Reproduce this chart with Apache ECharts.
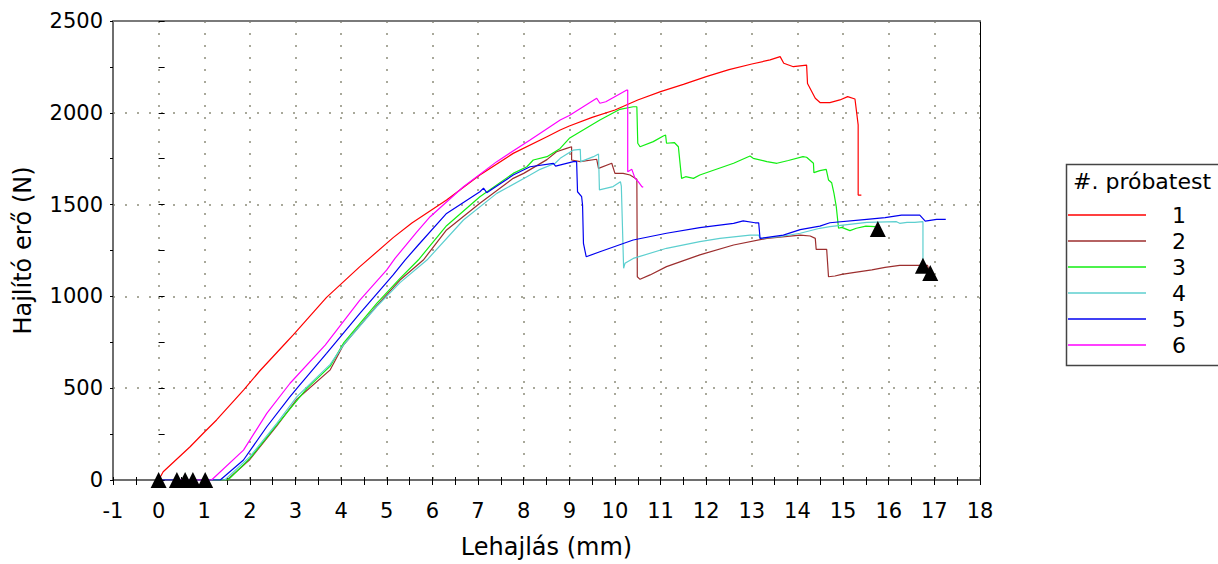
<!DOCTYPE html>
<html>
<head>
<meta charset="utf-8">
<script src="https://cdn.jsdelivr.net/npm/echarts@6/dist/echarts.min.js"></script>
<style>
  html, body { margin: 0; padding: 0; background: #ffffff; }
  #chart { width: 1218px; height: 564px; }
</style>
</head>
<body>
<div id="chart"></div>
<script>
// ---- Data ----
const seriesNames = ['1', '2', '3', '4', '5', '6'];
const seriesColors = ['#ff0000', '#9c2e2e', '#11ee11', '#5ccfcf', '#0000f0', '#ff00ff'];

const xTickLabels = ['-1','0','1','2','3','4','5','6','7','8','9','10','11','12','13','14','15','16','17','18'];
const yTickLabels = ['0','500','1000','1500','2000','2500'];

const sample1 = [[0,0],[0.1,45],[0.69,181],[1.0,260],[1.27,327],[1.86,490],[2.22,595],[2.81,753],[2.95,790],[3.68,995],[4.41,1162],[5.14,1320],[5.55,1400],[6.31,1525],[7.04,1661],[7.77,1779],[8.51,1870],[8.8,1906],[9.0,1928],[9.5,1975],[10.0,2015],[10.5,2070],[11.0,2115],[11.5,2155],[12.0,2197],[12.5,2235],[13.0,2266],[13.4,2288],[13.62,2306],[13.7,2270],[13.91,2251],[14.2,2260],[14.22,2160],[14.39,2079],[14.5,2055],[14.71,2055],[14.93,2070],[15.1,2088],[15.26,2075],[15.33,1934],[15.33,1552],[15.4,1552]];

const sample2 = [[0.58,0],[1.5,0],[2.0,112],[2.59,295],[3.03,440],[3.76,600],[4.05,735],[4.78,950],[5.29,1089],[5.8,1198],[6.31,1362],[7.04,1507],[7.77,1643],[8.0,1670],[8.51,1745],[8.72,1788],[8.94,1806],[9.05,1815],[9.05,1743],[9.24,1734],[9.6,1747],[9.64,1697],[9.93,1725],[10.0,1670],[10.18,1670],[10.33,1661],[10.48,1638],[10.49,1107],[10.55,1093],[10.77,1117],[11.13,1162],[11.86,1226],[12.6,1280],[13.33,1316],[14.06,1334],[14.28,1329],[14.39,1316],[14.41,1256],[14.64,1256],[14.68,1107],[14.82,1111],[14.97,1120],[15.22,1129],[15.63,1144],[15.92,1158],[16.24,1169],[16.85,1169],[16.9,1127]];

const sample3 = [[0.75,0],[1.52,0],[2.0,118],[2.59,300],[3.25,499],[3.76,620],[4.05,745],[4.78,962],[5.29,1098],[5.69,1198],[6.31,1385],[7.04,1543],[7.77,1670],[8.07,1706],[8.21,1743],[8.51,1761],[8.8,1806],[9.0,1861],[9.67,1961],[10.11,2019],[10.4,2033],[10.48,2033],[10.5,1834],[10.55,1815],[10.84,1843],[11.06,1874],[11.11,1879],[11.13,1834],[11.3,1838],[11.39,1815],[11.46,1643],[11.55,1652],[11.72,1643],[11.86,1661],[12.6,1725],[12.96,1765],[13.03,1752],[13.33,1734],[13.55,1725],[13.8,1740],[14.12,1761],[14.2,1758],[14.35,1725],[14.36,1674],[14.49,1685],[14.63,1692],[14.68,1634],[14.75,1619],[14.8,1561],[14.85,1489],[14.9,1371],[14.97,1376],[15.15,1358],[15.29,1371],[15.5,1383],[15.7,1380]];

const sample4 = [[1.02,0],[1.45,0],[2.0,127],[2.59,309],[3.03,454],[3.76,630],[4.05,735],[4.78,945],[5.29,1075],[5.88,1198],[6.68,1416],[7.41,1561],[8.14,1661],[8.36,1692],[8.69,1725],[8.8,1752],[9.09,1797],[9.24,1801],[9.25,1734],[9.53,1761],[9.64,1776],[9.66,1580],[9.96,1598],[10.12,1625],[10.14,1600],[10.19,1153],[10.22,1180],[10.4,1207],[11.13,1262],[11.86,1298],[12.3,1316],[12.96,1334],[13.15,1334],[13.18,1316],[13.6,1325],[14.06,1344],[14.49,1371],[14.71,1380],[15.52,1403],[16.17,1407],[16.24,1398],[16.4,1403],[16.57,1403],[16.75,1407],[16.75,1180]];

const sample5 = [[0,0],[1.35,0],[1.86,109],[2.37,290],[2.88,454],[3.03,499],[3.68,690],[4.41,908],[5.14,1117],[5.4,1198],[5.69,1280],[6.31,1452],[7.04,1570],[7.12,1590],[7.19,1565],[7.77,1661],[8.14,1706],[8.65,1725],[8.7,1710],[9.09,1734],[9.16,1734],[9.18,1570],[9.27,1543],[9.29,1498],[9.31,1289],[9.37,1216],[9.67,1243],[10.4,1307],[11.13,1344],[11.86,1375],[12.6,1398],[12.81,1411],[13.07,1401],[13.15,1401],[13.18,1316],[13.69,1334],[14.06,1364],[14.49,1383],[14.71,1401],[15.52,1420],[15.92,1429],[16.28,1443],[16.68,1443],[16.8,1410],[17.05,1420],[17.25,1420]];

const sample6 = [[0.4,0],[1.16,0],[1.86,163],[2.37,363],[2.88,527],[3.65,735],[4.41,980],[5.0,1144],[5.18,1207],[5.66,1352],[5.95,1434],[6.68,1597],[7.41,1734],[8.14,1852],[8.8,1961],[9.0,1985],[9.6,2079],[9.67,2052],[9.8,2060],[10.26,2124],[10.28,2124],[10.28,1679],[10.37,1692],[10.44,1643],[10.51,1625],[10.59,1598],[10.62,1594]];

const startMarkers = [[0,0],[0.4,0],[0.58,0],[0.75,0],[1.02,0]];
const endMarkers = [[15.76,1367],[16.75,1167],[16.91,1127]];

const legendTitle = '#. próbatest';
const xName = 'Lehajlás (mm)';
const yName = 'Hajlító erő (N)';

// ---- Chart ----
const FONT = 'DejaVu Sans';
const samples = [sample1, sample2, sample3, sample4, sample5, sample6];
const chart = echarts.init(document.getElementById('chart'), null, { renderer: 'svg' });

const gridBox = { left: 113, right: 238, top: 21, bottom: 84 };
const dotted = { color: '#a9a99b', width: 2, type: [2, 10] };

const lineSeries = samples.map((d, i) => ({
  name: seriesNames[i],
  type: 'line',
  data: d,
  xAxisIndex: 0, yAxisIndex: 0,
  symbol: 'none',
  showSymbol: false,
  animation: false,
  lineStyle: { color: seriesColors[i], width: 1.2 },
  itemStyle: { color: seriesColors[i] },
  z: 3
}));

const option = {
  animation: false,
  textStyle: { fontFamily: FONT },
  grid: [
    Object.assign({}, gridBox),
    Object.assign({}, gridBox)
  ],
  xAxis: [
    {
      gridIndex: 0, type: 'value', position: 'bottom',
      min: -1, max: 18, interval: 1,
      name: xName, nameLocation: 'middle', nameGap: 55,
      nameTextStyle: { fontFamily: FONT, fontSize: 24, color: '#000' },
      axisLine: { show: true, onZero: false, lineStyle: { color: '#6e6e6e', width: 2 } },
      axisTick: { show: true, inside: false, length: 5, lineStyle: { color: '#000', width: 1 } },
      minorTick: { show: true, splitNumber: 2, length: 5, lineStyle: { color: '#000', width: 1 } },
      axisLabel: { fontFamily: FONT, fontSize: 21, color: '#000', margin: 20,
        formatter: v => xTickLabels[Math.round(v) + 1] },
      splitLine: { show: true, lineStyle: dotted }
    },
    {
      gridIndex: 0, type: 'value', position: 'top',
      min: -1, max: 18, interval: 1,
      axisLine: { show: true, onZero: false, lineStyle: { color: '#7a7a7a', width: 2 } },
      axisTick: { show: false }, axisLabel: { show: false }, splitLine: { show: false }
    },
    {
      gridIndex: 1, type: 'value', position: 'bottom',
      min: -1, max: 18, interval: 0.5,
      axisLine: { show: false },
      axisTick: { show: true, inside: true, length: 3, lineStyle: { color: '#000', width: 1 } },
      axisLabel: { show: false }, splitLine: { show: false }
    }
  ],
  yAxis: [
    {
      gridIndex: 0, type: 'value', position: 'left',
      min: 0, max: 2500, interval: 500,
      name: yName, nameLocation: 'middle', nameGap: 78, nameRotate: 90,
      nameTextStyle: { fontFamily: FONT, fontSize: 24, color: '#000' },
      axisLine: { show: true, onZero: false, lineStyle: { color: '#6e6e6e', width: 2 } },
      axisTick: { show: true, inside: false, length: 3, lineStyle: { color: '#000', width: 1 } },
      minorTick: { show: true, splitNumber: 2, length: 3, lineStyle: { color: '#000', width: 1 } },
      axisLabel: { fontFamily: FONT, fontSize: 21, color: '#000', margin: 10,
        formatter: v => yTickLabels[Math.round(v / 500)] },
      splitLine: { show: true, lineStyle: dotted }
    },
    {
      gridIndex: 0, type: 'value', position: 'right',
      min: 0, max: 2500, interval: 500,
      axisLine: { show: true, onZero: false, lineStyle: { color: '#000', width: 1 } },
      axisTick: { show: false }, axisLabel: { show: false }, splitLine: { show: false }
    },
    {
      gridIndex: 1, type: 'value', position: 'left',
      min: 0, max: 2500, interval: 250,
      axisLine: { show: false },
      axisTick: { show: true, inside: true, length: 6, lineStyle: { color: '#000', width: 1 } },
      axisLabel: { show: false }, splitLine: { show: false }
    }
  ],
  legend: {
    show: true,
    data: seriesNames,
    orient: 'vertical',
    left: 1068, top: 204,
    padding: 0,
    icon: 'rect',
    itemWidth: 78, itemHeight: 1.5, itemGap: 4,
    textStyle: { fontFamily: FONT, fontSize: 22, color: '#000', padding: [0, 0, 0, 21] },
    selectedMode: false
  },
  graphic: [
    { type: 'rect', left: 1064, top: 162, z: 10,
      shape: { width: 200, height: 201 },
      style: { fill: 'none', stroke: '#444', lineWidth: 1.5 } },
    { type: 'text', left: 1073, top: 170, z: 10,
      style: { text: legendTitle, fontFamily: FONT, fontSize: 22, fill: '#000' } }
  ],
  series: lineSeries.concat([
    {
      name: 'start', type: 'scatter', data: startMarkers,
      xAxisIndex: 0, yAxisIndex: 0,
      symbol: 'triangle', symbolSize: 16,
      itemStyle: { color: '#000', opacity: 1 }, z: 5, silent: true
    },
    {
      name: 'end', type: 'scatter', data: endMarkers,
      xAxisIndex: 0, yAxisIndex: 0,
      symbol: 'triangle', symbolSize: 16,
      itemStyle: { color: '#000', opacity: 1 }, z: 5, silent: true
    }
  ])
};

chart.setOption(option);
</script>
</body>
</html>
